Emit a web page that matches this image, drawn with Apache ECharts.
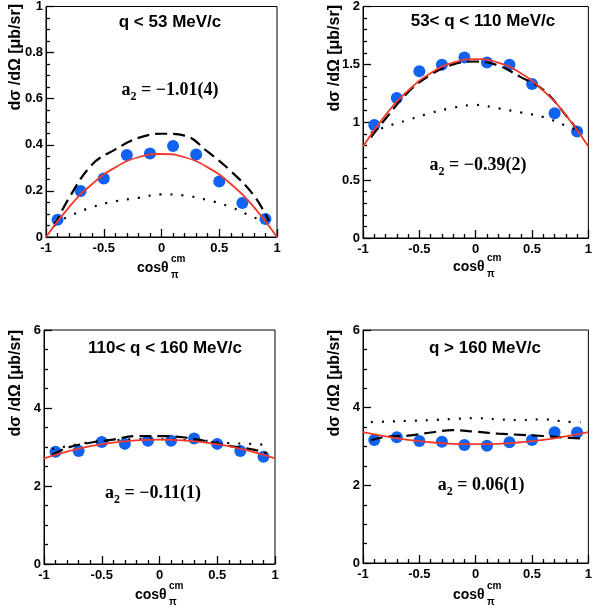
<!DOCTYPE html>
<html>
<head>
<meta charset="utf-8">
<script src="https://cdn.jsdelivr.net/npm/echarts@6/dist/echarts.min.js"></script>
<style>
  html, body { margin: 0; padding: 0; background: #fff; }
  #wrap { position: relative; width: 595px; height: 610px; }
  #chart, #labels { position: absolute; left: 0; top: 0; width: 595px; height: 610px; }
  #labels { pointer-events: none; }
</style>
</head>
<body>
<div id="wrap">
  <div id="chart"></div>
  <div id="labels"></div>
</div>
<script>
// cos(theta) bins of the measured points
const xBins = [-0.9, -0.7, -0.5, -0.3, -0.1, 0.1, 0.3, 0.5, 0.7, 0.9];
const fitX = [-1, -0.8, -0.6, -0.4, -0.2, 0, 0.2, 0.4, 0.6, 0.8, 1];
const modelX = [-0.93, -0.8, -0.6, -0.4, -0.2, 0, 0.2, 0.4, 0.6, 0.8, 0.93];

// q < 53 MeV/c
const q1Data = [0.075, 0.2, 0.254, 0.356, 0.362, 0.395, 0.358, 0.241, 0.147, 0.078];
const q1Fit = [0, 0.13, 0.23, 0.302, 0.346, 0.36, 0.346, 0.302, 0.23, 0.13, 0];
const q1Dash = [0.045, 0.17, 0.315, 0.38, 0.43, 0.448, 0.44, 0.37, 0.286, 0.18, 0.07];
const q1Dot = [0.06, 0.09, 0.13, 0.155, 0.17, 0.185, 0.18, 0.16, 0.13, 0.085, 0.065];

// 53 < q < 110 MeV/c
const q2Data = [0.977, 1.21, 1.44, 1.496, 1.56, 1.516, 1.496, 1.33, 1.077, 0.92];
const q2Fit = [0.79, 1.062, 1.273, 1.424, 1.515, 1.545, 1.515, 1.424, 1.273, 1.062, 0.79];
const q2Dash = [0.87, 1.03, 1.26, 1.41, 1.5, 1.525, 1.49, 1.39, 1.28, 1.06, 0.9];
const q2Dot = [0.91, 0.96, 1.02, 1.08, 1.125, 1.15, 1.12, 1.085, 1.045, 0.97, 0.92];

// 110 < q < 160 MeV/c
const q3Data = [2.88, 2.9, 3.13, 3.08, 3.16, 3.16, 3.22, 3.08, 2.9, 2.75];
const q3Fit = [2.71, 2.88, 3.02, 3.11, 3.17, 3.19, 3.17, 3.11, 3.02, 2.88, 2.71];
const q3Dash = [2.8, 2.98, 3.11, 3.19, 3.28, 3.28, 3.25, 3.15, 3.03, 2.94, 2.84];
const q3Dot = [2.95, 3.02, 3.12, 3.17, 3.2, 3.2, 3.18, 3.16, 3.1, 3.08, 3.05];

// q > 160 MeV/c
const q4Data = [3.17, 3.24, 3.14, 3.12, 3.04, 3.02, 3.11, 3.17, 3.37, 3.36];
const q4Fit = [3.37, 3.26, 3.17, 3.11, 3.07, 3.06, 3.07, 3.11, 3.17, 3.26, 3.37];
const q4Dash = [3.16, 3.25, 3.28, 3.36, 3.42, 3.38, 3.33, 3.3, 3.27, 3.23, 3.21];
const q4Dot = [3.63, 3.64, 3.66, 3.68, 3.71, 3.73, 3.7, 3.68, 3.7, 3.64, 3.63];

// axis ranges and labels per panel
const yMax = [1, 2, 6, 6];
const yStep = [0.2, 0.5, 2, 2];
const yMinor = [4, 5, 4, 4];
const titles = ['q < 53 MeV/c', '53< q < 110 MeV/c', '110< q < 160 MeV/c', 'q > 160 MeV/c'];
const a2Text = ['\u22121.01(4)', '\u22120.39(2)', '\u22120.11(1)', '0.06(1)'];

const panels = [
  { data: q1Data, fit: q1Fit, dash: q1Dash, dot: q1Dot },
  { data: q2Data, fit: q2Fit, dash: q2Dash, dot: q2Dot },
  { data: q3Data, fit: q3Fit, dash: q3Dash, dot: q3Dot },
  { data: q4Data, fit: q4Fit, dash: q4Dash, dot: q4Dot }
];

// frame boxes (pixels)
const grids = [
  { left: 46, top: 4, width: 231, height: 233 },
  { left: 363, top: 5, width: 230, height: 233 },
  { left: 44, top: 330, width: 231, height: 234 },
  { left: 363, top: 330, width: 230, height: 233 }
];
// text anchors
const titlePos = [[170, 22], [483, 21], [165, 348], [485, 348]];
const a2Pos = [[170, 90], [478, 165], [153, 493], [481, 485]];
const yTitlePos = [[16, 4], [335, 5], [16, 330], [335, 330]];
const xTitlePos = [[137, 268], [453, 267], [135, 595], [453, 595]];

const SANS = '"Liberation Sans", Arial, sans-serif';
const SERIF = '"Liberation Serif", "Times New Roman", serif';

const zip = (xs, ys) => xs.map((x, i) => [x, ys[i]]);

// plot: frames, axes and curves
const chart = echarts.init(document.getElementById('chart'));

const option = {
  animation: false,
  grid: grids.map(g => ({
    left: g.left, top: g.top, width: g.width, height: g.height,
    show: true, borderColor: '#000'
  })),
  xAxis: grids.map((g, i) => ({
    type: 'value', gridIndex: i, min: -1, max: 1, interval: 0.5,
    axisLine: { show: true, onZero: false, lineStyle: { color: '#000' } },
    axisTick: { show: true, inside: true, length: 8, lineStyle: { color: '#000', width: 1.3 } },
    minorTick: { show: true, splitNumber: 5, length: 4, lineStyle: { color: '#000', width: 1.3 } },
    splitLine: { show: false },
    axisLabel: { color: '#000', fontFamily: SANS, fontWeight: 'bold', fontSize: 13, margin: 5 }
  })),
  yAxis: grids.map((g, i) => ({
    type: 'value', gridIndex: i, min: 0, max: yMax[i], interval: yStep[i],
    axisLine: { show: true, onZero: false, lineStyle: { color: '#000' } },
    axisTick: { show: true, inside: true, length: 8, lineStyle: { color: '#000', width: 1.3 } },
    minorTick: { show: true, splitNumber: yMinor[i], length: 4, lineStyle: { color: '#000', width: 1.3 } },
    splitLine: { show: false },
    axisLabel: { color: '#000', fontFamily: SANS, fontWeight: 'bold', fontSize: 13, margin: 3 }
  })),
  series: []
};

panels.forEach((p, i) => {
  // measured points
  option.series.push({
    type: 'scatter', xAxisIndex: i, yAxisIndex: i,
    symbol: 'circle', symbolSize: 12,
    itemStyle: { color: '#0f62f2', opacity: 1 },
    data: zip(xBins, p.data)
  });
  // dotted model curve
  option.series.push({
    type: 'line', xAxisIndex: i, yAxisIndex: i,
    showSymbol: false, smooth: 0.4,
    lineStyle: { color: '#000', width: 2.2, type: [2, 9] },
    data: zip(modelX, p.dot)
  });
  // dashed model curve
  option.series.push({
    type: 'line', xAxisIndex: i, yAxisIndex: i,
    showSymbol: false, smooth: 0.4,
    lineStyle: { color: '#000', width: 2.2, type: [12, 6] },
    data: zip(modelX, p.dash)
  });
  // Legendre fit
  option.series.push({
    type: 'line', xAxisIndex: i, yAxisIndex: i,
    showSymbol: false, smooth: 0.5,
    lineStyle: { color: '#f3392b', width: 1.8 },
    data: zip(fitX, p.fit)
  });
});

chart.setOption(option);

// texts: titles, a2 values, axis titles (separate transparent layer)
const labels = echarts.init(document.getElementById('labels'));
const texts = [];
grids.forEach((g, i) => {
  texts.push({
    type: 'text', x: titlePos[i][0], y: titlePos[i][1],
    style: { text: titles[i], fill: '#000', align: 'center', verticalAlign: 'middle', font: 'bold 17px ' + SANS }
  });
  texts.push({
    type: 'text', x: a2Pos[i][0], y: a2Pos[i][1] + 2,
    style: {
      text: '{a|a}{s|2}{a| = ' + a2Text[i] + '}',
      fill: '#000', align: 'center', verticalAlign: 'middle',
      rich: {
        a: { fontFamily: SERIF, fontWeight: 'bold', fontSize: 18, verticalAlign: 'bottom', padding: [0, 0, 4, 0] },
        s: { fontFamily: SERIF, fontWeight: 'bold', fontSize: 12, verticalAlign: 'bottom' }
      }
    }
  });
  texts.push({
    type: 'text', x: yTitlePos[i][0], y: yTitlePos[i][1], rotation: Math.PI / 2,
    style: {
      text: 'd\u03c3 /d\u03a9 [\u03bcb/sr]', fill: '#000', align: 'right', verticalAlign: 'middle',
      font: 'bold 16px ' + SANS
    }
  });
  texts.push({
    type: 'text', x: xTitlePos[i][0], y: xTitlePos[i][1],
    style: { text: 'cos\u03b8', fill: '#000', align: 'left', verticalAlign: 'middle', font: 'bold 14px ' + SANS }
  });
  texts.push({
    type: 'text', x: xTitlePos[i][0] + 34, y: xTitlePos[i][1] - 9,
    style: { text: 'cm', fill: '#000', align: 'left', verticalAlign: 'middle', font: 'bold 10px ' + SANS }
  });
  texts.push({
    type: 'text', x: xTitlePos[i][0] + 34, y: xTitlePos[i][1] + 7,
    style: { text: '\u03c0', fill: '#000', align: 'left', verticalAlign: 'middle', font: 'bold 10px ' + SANS }
  });
});
labels.setOption({ animation: false, graphic: { elements: texts } });
</script>
</body>
</html>
